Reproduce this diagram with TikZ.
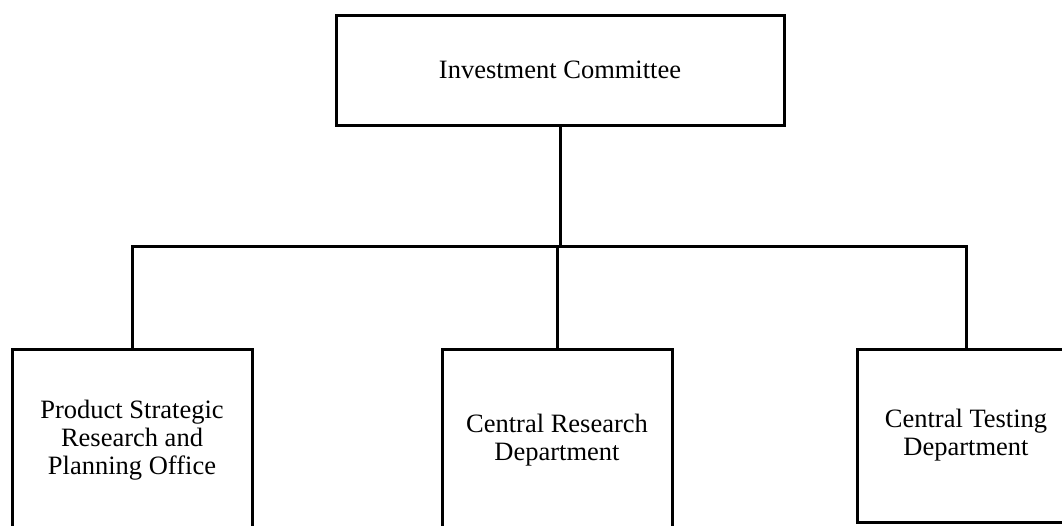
\documentclass[tikz,border=0pt]{standalone}
\usepackage{fontspec}
\setmainfont{Liberation Serif}
\begin{document}
\begin{tikzpicture}[x=1pt,y=-1pt,
  unit/.style={draw=black, line width=3pt, rectangle, inner sep=0pt, align=center,
    font=\fontsize{26.5}{28}\selectfont},
  link/.style={draw=black, line width=3pt}]
  \useasboundingbox (0,0) rectangle (1062,525);
  \clip (0,0) rectangle (1062,525);
  % committee at the head
  \node[unit, minimum width=448pt, minimum height=110pt] (ic) at (560,70) {Investment Committee};
  % departments below
  \node[unit, minimum width=240pt, minimum height=182pt] (psr) at (132,440) {Product Strategic\\Research and\\Planning Office};
  \node[unit, minimum width=230pt, minimum height=182pt] (crd) at (557,440) {Central Research\\Department};
  \node[unit, minimum width=218pt, minimum height=173pt] (ctd) at (966,435.5) {Central Testing\\Department};
  % connectors
  \coordinate (bus) at (560,246);
  \draw[link] (ic.south) -- (bus);
  \draw[link] (psr.north) |- (bus) -| (ctd.north);
  \draw[link] (crd.north) -- (crd.north |- bus);
\end{tikzpicture}
\end{document}
